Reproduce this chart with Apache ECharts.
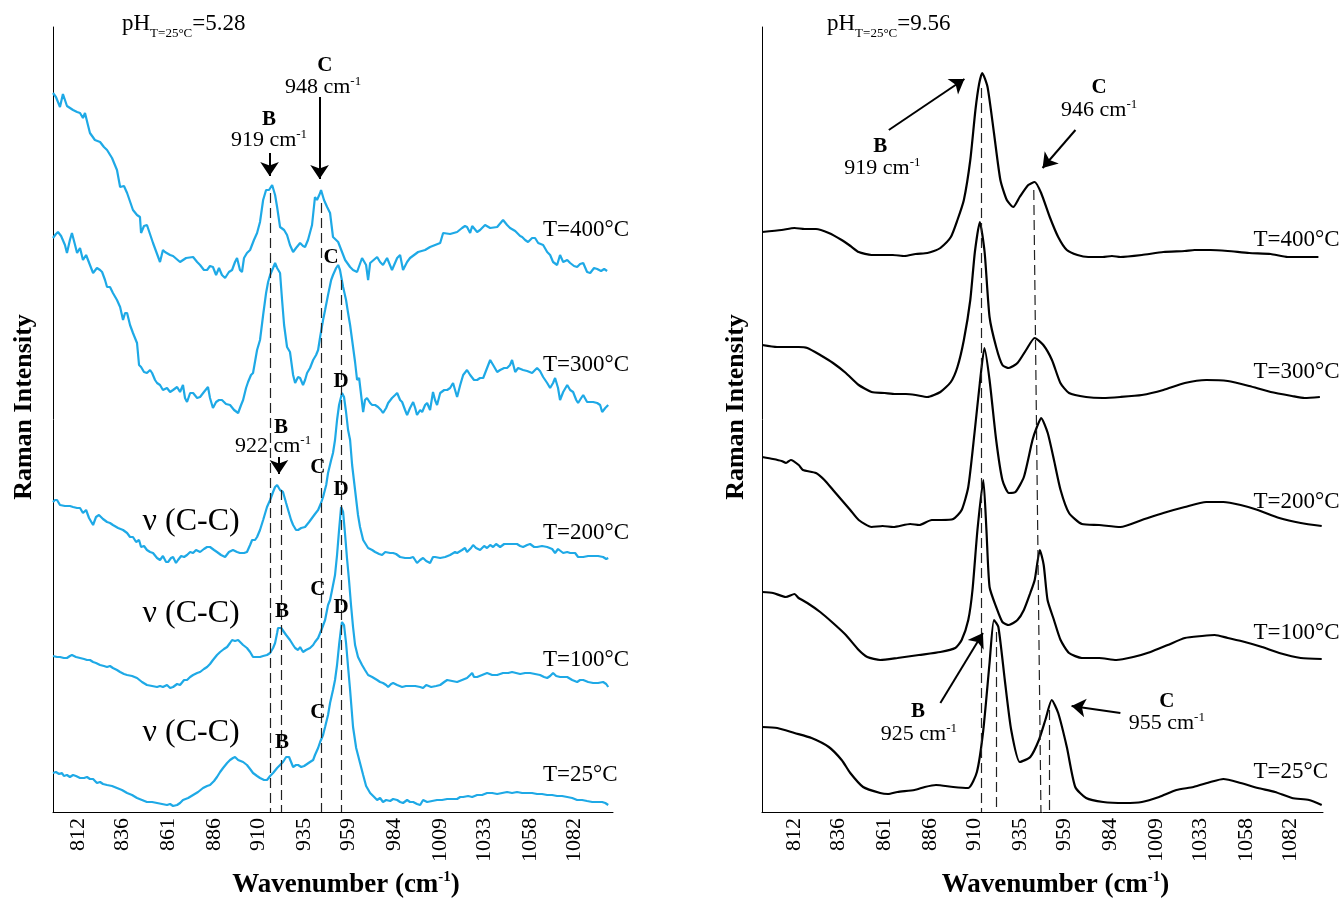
<!DOCTYPE html>
<html><head><meta charset="utf-8">
<script src="https://cdn.jsdelivr.net/npm/echarts@6/dist/echarts.min.js"></script>
<style>html,body{margin:0;padding:0;background:#fff}#c{width:1341px;height:898px}</style>
</head><body><div id="c"></div>
<script>
// ---------- data (wavenumber cm-1, intensity a.u.) ----------
const tickValues = [812, 836, 861, 886, 910, 935, 959, 984, 1009, 1033, 1058, 1082];
const tempLabels = ['T=400°C', 'T=300°C', 'T=200°C', 'T=100°C', 'T=25°C'];

const left400 = [[798.4,719],[800.0,715],[802.2,705],[803.8,718],[806.0,706],[809.3,702],[811.5,700],[813.1,699],[814.7,694],[815.8,699],[817.4,687],[818.5,679],[821.2,672],[824.0,670],[826.1,665],[827.8,662],[830.5,654],[833.2,642],[834.9,625],[837.0,626],[838.7,619],[841.9,602],[844.1,597],[845.7,595],[846.3,579],[847.9,586],[849.5,587],[852.8,569],[856.6,550],[858.2,562],[859.3,560],[862.1,557],[863.7,556],[867.5,550],[870.8,554],[874.6,555],[876.8,550],[878.4,547],[880.5,542],[882.2,542],[883.8,546],[885.4,545],[887.1,537],[888.7,544],[890.3,537],[892.0,534],[894.1,540],[895.8,542],[897.4,550],[898.5,554],[900.1,542],[901.2,540],[902.3,554],[903.9,559],[905.6,562],[907.7,572],[909.4,579],[911.0,590],[912.7,612],[914.3,622],[915.9,622],[917.6,627],[919.2,617],[920.3,605],[921.9,585],[924.1,582],[925.7,577],[927.3,567],[929.0,560],[930.6,564],[932.8,569],[934.4,566],[935.5,565],[937.1,572],[939.3,587],[940.9,615],[942.0,612],[942.6,610],[943.7,619],[944.2,622],[945.8,612],[947.5,605],[949.1,599],[950.7,575],[952.4,572],[953.5,570],[957.3,552],[960.0,545],[961.6,542],[963.8,540],[966.5,554],[968.7,547],[969.8,532],[970.9,549],[974.7,555],[976.3,550],[977.9,547],[980.1,554],[982.8,542],[985.6,554],[987.2,557],[988.8,542],[991.0,550],[992.6,554],[997.0,560],[1000.8,562],[1003.5,565],[1009.0,569],[1010.6,579],[1014.4,578],[1018.2,580],[1020.9,584],[1022.5,586],[1023.6,585],[1025.3,579],[1026.4,586],[1029.1,580],[1030.7,582],[1033.4,587],[1036.2,584],[1040.0,585],[1043.2,592],[1045.4,587],[1047.0,584],[1049.8,581],[1050.8,580],[1052.5,576],[1053.6,575],[1055.2,572],[1056.8,570],[1059.0,574],[1060.6,574],[1062.3,569],[1065.0,567],[1067.2,560],[1068.8,557],[1070.4,550],[1072.6,547],[1074.2,557],[1075.9,550],[1078.1,552],[1079.7,549],[1081.8,546],[1083.5,545],[1085.1,548],[1086.8,549],[1088.9,540],[1090.6,539],[1092.7,544],[1094.4,543],[1096.5,541],[1098.2,543],[1099.8,541]];

const left300 = [[798.4,574],[800.0,578],[801.1,580],[802.8,576],[803.8,575],[804.9,567],[806.0,559],[807.6,572],[808.7,579],[810.4,567],[811.5,559],[813.1,564],[814.7,552],[816.4,557],[818.5,547],[820.2,539],[822.3,544],[824.0,542],[825.1,540],[826.7,532],[827.8,525],[829.4,525],[831.0,519],[833.2,512],[834.9,505],[836.5,492],[837.6,499],[838.7,499],[840.3,487],[841.9,479],[844.1,469],[845.2,447],[846.3,445],[847.9,440],[849.5,439],[851.2,442],[852.3,439],[853.9,432],[855.0,429],[856.6,427],[858.2,422],[860.4,424],[862.1,420],[863.7,422],[865.9,425],[867.5,420],[869.1,427],[870.2,414],[871.3,410],[873.0,419],[874.6,419],[876.8,414],[878.4,415],[880.5,420],[882.7,425],[883.8,414],[885.4,404],[887.1,410],[888.7,412],[890.3,412],[892.5,408],[894.7,407],[896.9,402],[899.1,399],[900.7,407],[901.8,412],[903.4,424],[904.5,430],[906.1,437],[907.2,439],[909.4,462],[911.0,472],[912.7,497],[914.3,519],[915.4,530],[916.5,537],[918.1,544],[919.2,549],[920.3,544],[921.9,539],[923.0,512],[924.1,487],[925.7,465],[927.3,460],[929.0,437],[930.1,429],[931.7,435],[932.8,434],[934.4,427],[935.5,432],[936.6,439],[938.2,444],[939.9,452],[941.5,457],[942.6,462],[943.7,475],[945.3,492],[946.4,502],[948.0,517],[949.7,532],[950.7,537],[952.4,544],[953.5,547],[954.5,542],[956.2,525],[957.8,512],[958.9,499],[960.0,487],[961.1,472],[962.7,450],[963.8,432],[964.9,434],[966.0,417],[967.1,400],[968.1,412],[969.2,414],[970.9,409],[972.0,407],[973.6,407],[975.2,405],[976.8,402],[977.9,399],[979.6,404],[980.7,409],[982.8,414],[984.5,417],[985.6,419],[987.2,412],[988.3,410],[989.9,402],[991.0,397],[992.6,404],[994.3,410],[995.4,404],[996.4,397],[998.1,402],[999.2,400],[1000.8,407],[1001.9,409],[1003.5,402],[1005.1,420],[1006.2,412],[1007.3,407],[1009.0,419],[1011.2,422],[1012.8,422],[1014.4,424],[1016.0,429],[1017.1,422],[1018.2,415],[1019.9,427],[1021.5,437],[1023.6,442],[1025.3,437],[1027.4,432],[1029.1,432],[1030.7,434],[1032.4,434],[1034.5,444],[1036.2,452],[1037.8,447],[1040.0,440],[1041.6,442],[1043.8,444],[1045.4,444],[1047.0,447],[1048.1,452],[1049.8,440],[1051.4,444],[1054.1,442],[1056.3,441],[1059.0,439],[1060.6,442],[1061.7,444],[1063.3,441],[1065.0,435],[1067.2,429],[1068.8,424],[1070.4,429],[1071.5,434],[1073.1,424],[1074.2,412],[1075.9,420],[1078.1,427],[1079.7,422],[1081.3,420],[1083.0,412],[1084.0,409],[1085.7,414],[1086.8,417],[1088.9,410],[1090.6,410],[1092.2,410],[1094.4,409],[1096.0,407],[1097.1,400],[1098.8,404],[1100.4,407]];

const left200 = [[798.4,310],[799.5,312],[800.6,312],[802.2,307],[804.9,306],[807.6,306],[809.3,305],[811.5,304],[813.1,304],[814.7,299],[816.4,302],[818.0,294],[820.2,287],[821.8,295],[823.4,297],[825.6,293],[827.8,290],[829.4,289],[831.0,287],[833.8,284],[836.5,282],[838.7,279],[840.3,275],[841.9,275],[843.6,270],[845.2,272],[846.3,265],[847.9,266],[849.5,262],[851.2,260],[852.8,259],[855.0,254],[856.6,252],[858.2,256],[859.9,250],[861.0,250],[862.6,254],[863.7,255],[865.3,249],[866.4,252],[868.1,256],[869.7,255],[871.3,257],[873.0,260],[874.6,259],[876.2,262],[878.4,260],[880.5,263],[882.2,265],[883.8,265],[886.0,262],[887.6,260],[889.8,257],[892.0,255],[894.1,260],[896.3,262],[898.5,260],[900.1,259],[902.3,259],[903.9,260],[905.6,267],[906.7,272],[908.3,272],[909.4,275],[911.0,282],[912.7,292],[914.8,305],[916.5,312],[918.1,320],[919.2,325],[920.3,327],[921.9,322],[923.5,320],[925.2,309],[926.3,302],[927.9,292],[929.0,287],[930.6,282],[931.7,282],[933.4,284],[935.5,285],[937.7,290],[939.3,294],[940.9,298],[942.6,302],[944.2,309],[945.3,315],[947.0,327],[948.0,339],[949.7,352],[950.7,359],[951.8,372],[952.9,392],[954.0,407],[955.6,419],[956.7,415],[957.8,400],[958.9,382],[960.0,372],[961.1,347],[962.7,322],[964.3,297],[965.4,285],[967.1,272],[969.8,264],[972.0,262],[973.6,260],[975.8,258],[977.4,257],[979.1,260],[980.1,262],[981.8,259],[983.4,259],[985.0,258],[987.2,255],[989.9,254],[992.6,254],[994.3,255],[996.4,249],[998.1,252],[999.7,254],[1001.4,251],[1003.5,249],[1005.1,255],[1006.2,255],[1009.0,254],[1011.7,255],[1014.4,257],[1017.1,260],[1018.2,259],[1020.9,262],[1022.5,264],[1023.6,260],[1025.8,264],[1026.9,267],[1028.5,264],[1030.7,262],[1032.9,266],[1034.5,264],[1036.2,267],[1037.8,265],[1039.4,268],[1041.6,265],[1043.8,268],[1045.4,268],[1048.1,268],[1050.8,268],[1052.5,266],[1054.1,265],[1056.3,267],[1057.9,268],[1060.1,265],[1061.7,265],[1064.4,266],[1067.2,265],[1069.9,263],[1071.5,259],[1073.1,263],[1075.9,259],[1078.1,260],[1079.7,259],[1082.4,259],[1084.0,255],[1086.8,255],[1089.5,256],[1092.2,256],[1094.9,256],[1097.6,255],[1099.3,253],[1100.4,254]];

const left100 = [[798.4,156],[800.6,155],[802.2,155],[804.3,154],[806.0,154],[807.6,156],[808.7,157],[810.9,155],[813.1,154],[815.3,153],[816.9,152],[818.5,152],[820.2,150],[821.8,149],[824.0,147],[826.1,146],[827.8,145],[829.4,146],[831.0,144],[833.2,142],[834.9,140],[837.0,138],[838.7,137],[841.4,136],[844.1,134],[846.8,130],[849.5,127],[852.3,126],[855.0,125],[856.6,126],[858.2,125],[860.4,127],[862.1,124],[863.7,125],[865.9,128],[867.5,127],[869.7,132],[871.3,132],[873.0,135],[874.6,137],[876.8,139],[878.4,140],[880.5,143],[882.2,145],[883.8,148],[885.4,152],[887.6,157],[889.3,160],[891.4,163],[893.1,165],[894.7,169],[895.8,172],[897.4,171],[899.1,172],[900.1,170],[901.8,167],[903.9,164],[905.6,160],[907.2,155],[908.9,155],[911.0,155],[912.7,156],[914.8,157],[916.5,159],[918.1,164],[919.2,169],[920.3,179],[920.8,184],[922.5,184],[923.5,182],[925.2,177],[927.3,172],[929.0,167],[930.1,164],[931.7,162],[932.8,165],[934.4,160],[936.0,162],[938.2,164],[939.9,167],[940.9,170],[942.6,174],[943.7,179],[944.8,184],[946.4,192],[948.0,207],[949.1,212],[950.2,222],[951.8,237],[952.9,257],[954.0,282],[955.1,305],[956.2,300],[957.3,277],[958.3,254],[959.4,232],[960.5,207],[961.6,185],[962.7,167],[964.3,155],[966.5,147],[968.1,142],[969.8,137],[972.0,135],[974.7,132],[976.3,130],[977.9,129],[979.6,127],[980.7,125],[982.3,128],[983.4,129],[985.6,127],[988.3,125],[990.4,126],[992.6,126],[995.4,126],[998.1,125],[999.7,124],[1001.4,127],[1002.4,128],[1004.1,125],[1005.1,125],[1006.8,126],[1009.0,127],[1011.2,130],[1012.8,132],[1015.5,131],[1018.2,130],[1020.9,132],[1023.6,134],[1025.3,137],[1026.4,139],[1027.4,135],[1029.1,135],[1031.8,137],[1034.5,139],[1037.3,137],[1040.0,137],[1043.2,139],[1046.0,139],[1048.1,140],[1050.3,139],[1052.5,138],[1055.2,139],[1057.9,139],[1060.6,138],[1063.3,137],[1065.5,135],[1067.2,134],[1068.8,136],[1070.4,139],[1072.1,136],[1074.2,135],[1076.4,135],[1078.1,135],[1080.8,132],[1083.5,130],[1085.1,132],[1086.8,132],[1089.5,130],[1092.2,129],[1094.9,129],[1097.6,130],[1099.3,128],[1100.4,125]];

const left25 = [[798.4,39],[800.0,40],[801.7,38],[803.3,39],[804.3,36],[806.0,37],[807.6,35],[809.3,37],[810.9,36],[813.1,34],[815.3,34],[816.9,35],[818.5,33],[820.2,33],[822.3,29],[824.0,30],[825.6,28],[827.8,27],[830.5,26],[833.2,24],[835.9,22],[838.7,19],[841.4,17],[844.1,14],[846.8,12],[849.5,10],[852.3,10],[855.0,9],[857.7,8],[860.4,7],[862.1,8],[863.7,6],[865.9,7],[867.5,9],[869.1,12],[871.9,14],[874.6,17],[877.3,20],[880.0,24],[882.2,26],[883.8,27],[886.0,31],[887.6,35],[889.3,40],[890.9,44],[893.1,49],[894.7,52],[896.3,54],[897.4,55],[899.1,52],[900.1,52],[901.8,50],[903.9,47],[905.6,43],[907.2,39],[909.4,36],[911.0,34],[913.2,32],[914.8,32],[916.5,36],[918.1,39],[920.3,44],[921.9,47],[923.5,50],[925.2,55],[926.8,55],[927.9,50],[929.0,45],[930.6,47],[931.7,47],[933.4,45],[935.0,46],[936.6,48],[938.2,50],[939.9,52],[940.9,57],[942.6,64],[943.7,70],[945.3,77],[946.4,85],[948.0,97],[949.1,109],[950.7,122],[951.8,132],[952.9,147],[954.0,167],[955.1,184],[955.6,190],[956.7,187],[957.8,169],[958.9,145],[960.0,122],[961.6,85],[963.3,64],[965.4,49],[967.1,37],[968.7,26],[970.9,19],[973.1,15],[974.7,12],[976.3,14],[977.9,10],[979.6,12],[981.8,11],[983.4,13],[985.6,12],[987.2,10],[988.8,9],[991.0,12],[992.6,10],[994.3,10],[996.4,8],[998.1,7],[999.7,12],[1001.9,10],[1004.6,11],[1007.3,12],[1010.0,12],[1012.8,13],[1015.5,13],[1018.2,13],[1019.9,15],[1021.5,15],[1024.2,16],[1026.4,15],[1029.1,17],[1031.8,17],[1034.5,19],[1037.3,19],[1040.0,18],[1042.7,19],[1045.4,20],[1048.1,19],[1050.8,20],[1053.6,19],[1056.3,19],[1059.0,19],[1061.7,18],[1064.4,18],[1067.2,17],[1069.9,17],[1072.6,16],[1075.3,16],[1078.1,15],[1080.8,14],[1083.5,12],[1086.2,12],[1088.9,11],[1091.7,10],[1094.4,10],[1097.1,10],[1098.8,9],[1100.4,7]];

const right400 = [[794.4,580],[805.0,582],[812.0,584],[817.5,583],[823.7,583],[830.7,579],[837.7,572],[842.5,566],[847.0,560],[854.0,557],[860.0,557],[865.6,557],[872.0,556],[878.0,558],[884.4,559],[888.0,561],[891.5,564],[897.2,575],[900.8,592],[904.3,612],[907.8,652],[910.6,702],[912.6,728],[914.3,739],[917.2,725],[920.7,679],[924.2,632],[927.7,612],[931.2,605],[934.7,615],[939.4,627],[942.9,630],[946.4,619],[951.1,595],[955.7,575],[960.4,562],[966.2,557],[972.1,555],[980.0,555],[985.0,556],[989.6,555],[1001.3,557],[1013.0,560],[1024.7,561],[1030.0,562],[1038.7,562],[1048.1,561],[1059.8,559],[1071.5,558],[1080.8,555],[1090.0,555],[1097.5,555]];

const right300 = [[794.4,467],[802.5,465],[814.3,465],[819.0,464],[826.0,457],[833.0,449],[840.0,439],[847.0,427],[854.0,420],[861.1,419],[867.0,418],[872.7,418],[878.0,417],[884.4,415],[891.5,420],[897.2,430],[900.8,445],[904.3,472],[907.8,512],[910.3,560],[913.0,590],[915.6,560],[918.3,495],[921.9,465],[925.3,447],[928.8,444],[933.5,449],[938.2,462],[942.9,474],[947.6,467],[952.3,452],[956.9,429],[961.6,419],[970.9,415],[980.0,414],[989.6,415],[1001.3,417],[1013.0,422],[1024.7,429],[1036.4,432],[1048.1,431],[1059.8,426],[1071.5,420],[1083.1,416],[1090.0,414],[1098.3,415]];

const right200 = [[794.4,355],[800.3,353],[805.0,351],[807.4,349],[810.0,352],[814.3,347],[816.6,342],[823.7,339],[828.3,332],[833.0,322],[837.7,312],[842.4,302],[847.0,292],[854.0,285],[860.0,286],[865.8,285],[875.1,288],[880.0,287],[886.8,292],[892.0,292],[898.5,293],[903.1,302],[906.7,325],[910.1,379],[913.0,429],[915.5,464],[918.3,432],[921.9,372],[925.3,332],[928.8,319],[932.4,320],[937.0,335],[941.7,372],[944.1,385],[946.4,394],[950.0,379],[953.4,352],[957.0,322],[961.6,299],[968.6,288],[978.0,287],[989.6,285],[1001.3,292],[1013.0,299],[1024.7,305],[1036.4,310],[1045.7,310],[1055.1,307],[1064.5,302],[1076.2,294],[1087.9,289],[1099.3,286]];

const right100 = [[794.4,220],[800.3,219],[807.3,215],[812.0,218],[814.3,214],[819.0,209],[826.0,200],[833.0,189],[840.0,177],[847.0,162],[851.7,155],[858.7,152],[868.1,154],[879.8,157],[891.5,160],[899.6,164],[903.1,172],[906.7,192],[909.0,222],[911.7,282],[914.9,332],[916.6,282],[918.3,225],[921.9,205],[925.3,190],[928.8,187],[933.5,192],[937.0,202],[940.5,219],[942.9,232],[945.7,262],[947.8,247],[949.9,212],[953.4,192],[957.0,172],[961.6,159],[968.6,154],[978.0,154],[987.3,152],[996.6,155],[1006.0,160],[1015.4,167],[1024.7,174],[1034.1,176],[1041.0,177],[1048.1,174],[1057.4,170],[1066.8,165],[1076.2,159],[1087.9,154],[1099.3,153]];

const right25 = [[794.4,85],[802.6,84],[812.0,79],[821.3,74],[830.7,65],[837.7,52],[842.4,39],[849.4,25],[858.7,19],[863.0,18],[868.1,20],[877.4,22],[883.0,25],[889.1,27],[898.5,25],[906.7,24],[911.4,40],[914.9,82],[918.3,149],[920.7,192],[923.1,185],[926.6,132],[930.1,82],[934.8,50],[940.5,55],[945.2,72],[948.7,92],[952.2,112],[955.7,99],[960.4,65],[965.0,25],[970.9,14],[980.2,10],[992.0,9],[1001.3,10],[1010.7,15],[1020.1,22],[1029.4,25],[1038.7,30],[1045.7,33],[1055.1,29],[1064.5,24],[1073.9,20],[1083.1,14],[1092.4,12],[1099.3,7]];

// ---------- styling / annotations ----------
const FONT = "'Liberation Serif','Times New Roman',serif";
const BLUE = '#1ea9e6';

function txt(coord, formatter, size, bold, align) {
  return {coord, label: {formatter, fontSize: size, fontWeight: bold ? 'bold' : 'normal', align: align || 'center'}};
}
const cmRich = {
  n: {fontSize: 22, lineHeight: 24, fontFamily: FONT, color: '#000', verticalAlign: 'middle'},
  s: {fontSize: 13, lineHeight: 13, fontFamily: FONT, color: '#000', verticalAlign: 'top'}
};
function cm(coord, num) { return {coord, label: {formatter: '{n|' + num + ' cm}{s|-1}', rich: cmRich}}; }

const leftTexts = [
  txt([915.9,692],'B',21,true), cm([915.9,672],'919'),
  txt([946.3,746],'C',21,true), cm([945.3,725],'948'),
  txt([949.6,554],'C',21,true),
  txt([922.4,384],'B',21,true), cm([918.1,366],'922'),
  txt([942.5,344],'C',21,true), txt([955.1,430],'D',21,true),
  txt([873.5,290],'ν (C-C)',32,false),
  txt([873.5,198],'ν (C-C)',32,false), txt([923.0,200],'B',21,true),
  txt([942.5,222],'C',21,true), txt([955.1,322],'D',21,true),
  txt([873.5,79],'ν (C-C)',32,false), txt([923.0,69],'B',21,true),
  txt([942.5,99],'C',21,true), txt([955.1,204],'D',21,true)
].concat([582,447,279,152,37].map((v,i)=>txt([1064.9,v],tempLabels[i],23,false,'left')));

const rightTexts = [
  txt([858.7,665],'B',21,true), cm([859.9,644],'919'),
  txt([978.0,724],'C',21,true), cm([978.0,702],'946'),
  txt([879.3,100],'B',21,true), cm([879.8,78],'925'),
  txt([1014.9,110],'C',21,true), cm([1014.9,89],'955')
].concat([572,440,310,179,40].map((v,i)=>txt([1062.1,v],tempLabels[i],23,false,'left')));

const seg = (a,b)=>[{coord:a},{coord:b}];
const leftDashed = [seg([916.8,619],[916.8,0]), seg([922.8,322],[922.8,0]), seg([944.2,609],[944.2,0]), seg([955.4,532],[955.4,0])];
const rightDashed = [seg([913.6,724],[913.6,0]), seg([942.4,622],[946.3,0]), seg([921.9,180],[921.9,0]), seg([951.1,102],[951.1,0])];
const leftArrows = [seg([916.2,659],[916.2,636]), seg([943.4,715],[943.4,633]), seg([921.3,355],[921.3,338])];
const rightArrows = [seg([863.4,682],[904.6,733]), seg([965.1,682],[947.2,644]), seg([891.5,109],[914.7,179]), seg([989.6,99],[963.0,106])];

function dashedML(d){ return {silent:true, animation:false, symbol:['none','none'], label:{show:false}, emphasis:{disabled:true}, lineStyle:{color:'#222', width:1.2, type:[10,5]}, data:d}; }
function arrowML(d){ return {silent:true, animation:false, symbol:['none','arrow'], symbolSize:14, label:{show:false}, emphasis:{disabled:true}, lineStyle:{color:'#000', width:2, type:'solid'}, itemStyle:{color:'#000'}, data:d}; }
function textMP(d){ return {silent:true, animation:false, symbol:'circle', symbolSize:1, itemStyle:{color:'rgba(0,0,0,0)'}, label:{show:true, position:'inside', color:'#000', fontFamily:FONT}, emphasis:{disabled:true}, data:d}; }

function line(data, idx, color, smooth){
  return {type:'line', xAxisIndex:idx, yAxisIndex:idx, data, showSymbol:false, symbol:'none', clip:false,
          smooth: smooth, lineStyle:{color, width:2.2}, silent:true, animation:false, z:3};
}
const leftSeries = [left400,left300,left200,left100,left25].map(d=>line(d,0,BLUE,false));
const rightSeries = [right400,right300,right200,right100,right25].map(d=>line(d,1,'#000',0.2));
leftSeries[0].markLine = dashedML(leftDashed);
leftSeries[1].markLine = arrowML(leftArrows);
leftSeries[2].markPoint = textMP(leftTexts);
rightSeries[0].markLine = dashedML(rightDashed);
rightSeries[1].markLine = arrowML(rightArrows);
rightSeries[2].markPoint = textMP(rightTexts);

function xAxis(idx, min, max){
  return {type:'value', gridIndex:idx, min, max,
    axisLine:{show:true, onZero:false, lineStyle:{color:'#000', width:1}},
    axisTick:{show:false}, splitLine:{show:false},
    axisLabel:{customValues:tickValues, rotate:90, fontSize:22, fontFamily:FONT, color:'#000', margin:6,
               formatter:(v)=>String(Math.round(v))},
    name:'{n|Wavenumber (cm}{s|-1}{n|)}', nameLocation:'middle', nameGap:55,
    nameTextStyle:{padding:[0,0,0,26], rich:{
      n:{fontSize:27, fontWeight:'bold', fontFamily:FONT, color:'#000', lineHeight:30, verticalAlign:'middle'},
      s:{fontSize:15, fontWeight:'bold', fontFamily:FONT, color:'#000', lineHeight:15, verticalAlign:'top'}}}};
}
function yAxis(idx, gap){
  return {type:'value', gridIndex:idx, min:0, max:785,
    axisLine:{show:true, onZero:false, lineStyle:{color:'#000', width:1}},
    axisTick:{show:false}, axisLabel:{show:false}, splitLine:{show:false},
    name:'Raman Intensity', nameLocation:'middle', nameGap:gap,
    nameTextStyle:{fontSize:26, fontWeight:'bold', fontFamily:FONT, color:'#000', padding:[0,0,0,25]}};
}
const titleRich = {
  a:{fontSize:23, fontWeight:'normal', fontFamily:FONT, color:'#000', lineHeight:32, verticalAlign:'middle'},
  b:{fontSize:13, fontWeight:'normal', fontFamily:FONT, color:'#000', lineHeight:14, verticalAlign:'bottom'}
};

const chart = echarts.init(document.getElementById('c'), null, {renderer:'canvas'});
chart.setOption({
  animation:false,
  backgroundColor:'#fff',
  title:[
    {text:'{a|pH}{b|T=25°C}{a|=5.28}', left:117, top:3, textStyle:{fontWeight:'normal', rich:titleRich}},
    {text:'{a|pH}{b|T=25°C}{a|=9.56}', left:822, top:3, textStyle:{fontWeight:'normal', rich:titleRich}}
  ],
  grid:[
    {left:53, top:27, width:560, height:785, outerBoundsMode:'none', containLabel:false},
    {left:762, top:27, width:561, height:785, outerBoundsMode:'none', containLabel:false}
  ],
  xAxis:[xAxis(0, 798.4, 1103.0), xAxis(1, 794.3, 1100.0)],
  yAxis:[yAxis(0, 16), yAxis(1, 13)],
  series: leftSeries.concat(rightSeries)
});
</script></body></html>
